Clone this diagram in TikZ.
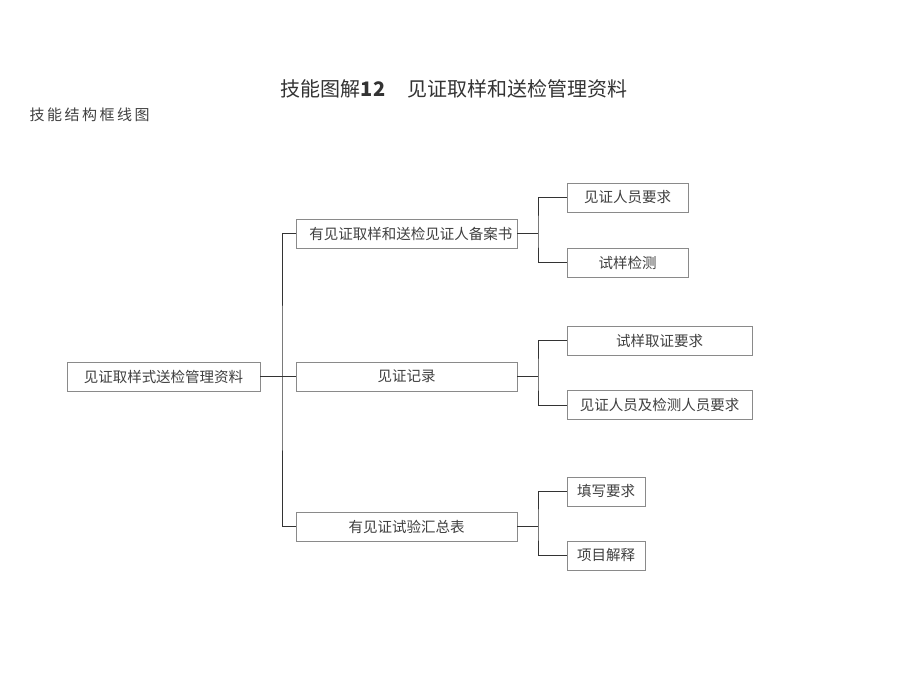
\documentclass[tikz,border=0pt]{standalone}
\usepackage{fontspec}
\setmainfont{Noto Sans CJK SC}
\usetikzlibrary{calc}
\definecolor{kuanggray}{HTML}{8A8A8A}
\definecolor{zigray}{HTML}{404040}
\tikzset{
  kuang/.style = {draw=kuanggray, fill=white, rectangle, inner sep=0pt,
    minimum height=29pt, align=center, text=zigray,
    font=\fontsize{14.5}{16}\selectfont},
  kuang_root/.style = {kuang, minimum width=193pt},% root box
  kuang_a/.style = {kuang, minimum width=221pt},% second level
  kuang_b/.style = {kuang, anchor=west},% leaf, width given at use
  lianxian/.style = {draw=black!80, line width=0.8pt}
}
\begin{document}
\begin{tikzpicture}[x=1pt,y=-1pt]
\useasboundingbox (0,0) rectangle (906,682);
% titles
\node (title) at (454,89) {\fontsize{20}{22}\selectfont\color{black!80}技能图解\textbf{12}\hspace{1.1em}见证取样和送检管理资料};
\node[anchor=west] (subtitle) at (26,115) {\fontsize{15}{17}\selectfont\color{black!75}技\,能\,结\,构\,框\,线\,图};
% boxes
\node [kuang_root] (root) at (163.5,376.5) {见证取样式送检管理资料};
\node [kuang_a] (a1) at (406.5,233.5) {\hspace{0.6em}有见证取样和送检见证人备案书};
\node [kuang_a] (a2) at (406.5,376.5) {见证记录};
\node [kuang_a] (a3) at (406.5,526.5) {有见证试验汇总表};
\node [kuang_b, minimum width=121pt] (b1) at (567,197.5) {见证人员要求};
\node [kuang_b, minimum width=121pt] (b2) at (567,262.5) {试样检测};
\node [kuang_b, minimum width=185pt] (b3) at (567,340.5) {试样取证要求};
\node [kuang_b, minimum width=185pt] (b4) at (567,405) {见证人员及检测人员要求};
\node [kuang_b, minimum width=78pt] (b5) at (567,491.5) {填写要求};
\node [kuang_b, minimum width=78pt] (b6) at (567,555.5) {项目解释};
% connectors
\coordinate (t0) at (282,376.5);
\coordinate (t1) at (538,233.5);
\coordinate (t2) at (538,376.5);
\coordinate (t3) at (538,526.5);
\draw [lianxian] (root.east) -- (a2.west);
\draw [lianxian] (a1.west) -| (t0) |- (a3.west);
\draw [lianxian] (a1.east) -- (t1);
\draw [lianxian] (b1.west) -| (t1) |- (b2.west);
\draw [lianxian] (a2.east) -- (t2);
\draw [lianxian] (b3.west) -| (t2) |- (b4.west);
\draw [lianxian] (a3.east) -- (t3);
\draw [lianxian] (b5.west) -| (t3) |- (b6.west);
\end{tikzpicture}
\end{document}
